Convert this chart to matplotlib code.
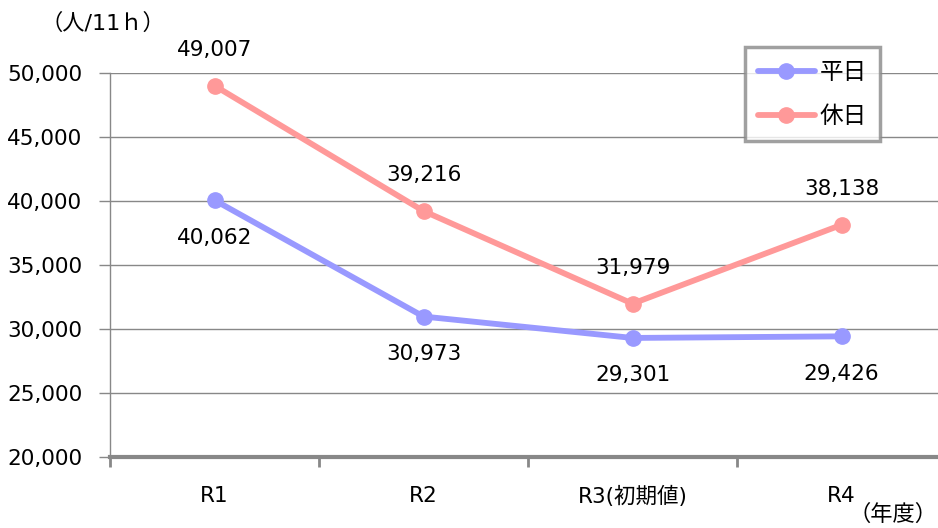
import matplotlib.pyplot as plt

plt.rcParams['font.family'] = ['DejaVu Sans', 'Noto Sans CJK JP']

# --- データ ---
年度 = ['R1', 'R2', 'R3(初期値)', 'R4']
平日 = [40062, 30973, 29301, 29426]
休日 = [49007, 39216, 31979, 38138]

col_hei = '#9999FF'
col_kyu = '#FF9999'
gris = '#888888'

fig = plt.figure(figsize=(9.38, 5.28), dpi=100)
ax = fig.add_axes([110 / 938, 71 / 528, 836 / 938, 384 / 528])

x = [0.5, 1.5, 2.5, 3.5]
ax.plot(x, 平日, color=col_hei, lw=4.2, marker='o', ms=11, label='平日',
        solid_capstyle='round', clip_on=False, zorder=3)
ax.plot(x, 休日, color=col_kyu, lw=4.2, marker='o', ms=11, label='休日',
        solid_capstyle='round', clip_on=False, zorder=3)

# etiquetas de datos
for xi, v in zip(x, 平日):
    ax.annotate(f'{v:,}', (xi, v), xytext=(0, -27), textcoords='offset points',
                ha='center', va='center', fontsize=15.5, annotation_clip=False)
for xi, v in zip(x, 休日):
    ax.annotate(f'{v:,}', (xi, v), xytext=(0, 26), textcoords='offset points',
                ha='center', va='center', fontsize=15.5, annotation_clip=False)

ax.set_xlim(0, 4)
ax.set_ylim(20000, 50000)
ax.set_yticks(range(20000, 50001, 5000))
ax.set_yticklabels([f'{v:,}' for v in range(20000, 50001, 5000)], fontsize=15.5)
ax.set_xticks([0, 1, 2, 3, 4])
ax.set_xticklabels([])
ax.set_xticks(x, minor=True)
ax.set_xticklabels(年度, minor=True, fontsize=15.5)
ax.tick_params(axis='x', which='minor', length=0, pad=21)
ax.tick_params(axis='x', which='major', length=7, width=2, color=gris)
ax.tick_params(axis='y', length=8, width=1, color=gris, pad=12)

ax.grid(axis='y', color=gris, lw=1)
ax.set_axisbelow(True)
for s in ['top', 'right']:
    ax.spines[s].set_visible(False)
ax.spines['left'].set_color(gris)
ax.spines['left'].set_linewidth(1)
ax.spines['bottom'].set_color(gris)
ax.spines['bottom'].set_linewidth(3)

leg = ax.legend(loc='upper left', bbox_to_anchor=(745 / 938, 1 - 47 / 528),
                bbox_transform=fig.transFigure, fontsize=17, frameon=True,
                fancybox=False, handlelength=2.4, borderpad=0.55, labelspacing=0.85,
                handletextpad=0.2, borderaxespad=0)
leg.get_frame().set_edgecolor(gris)
leg.get_frame().set_linewidth(2.5)

fig.text(40 / 938, 1 - 23 / 528, '（人/11ｈ）', fontsize=16, va='center', ha='left')
fig.text(937 / 938, 1 - 514 / 528, '（年度）', fontsize=16, va='center', ha='right')

fig.savefig('out.png', dpi=100)
